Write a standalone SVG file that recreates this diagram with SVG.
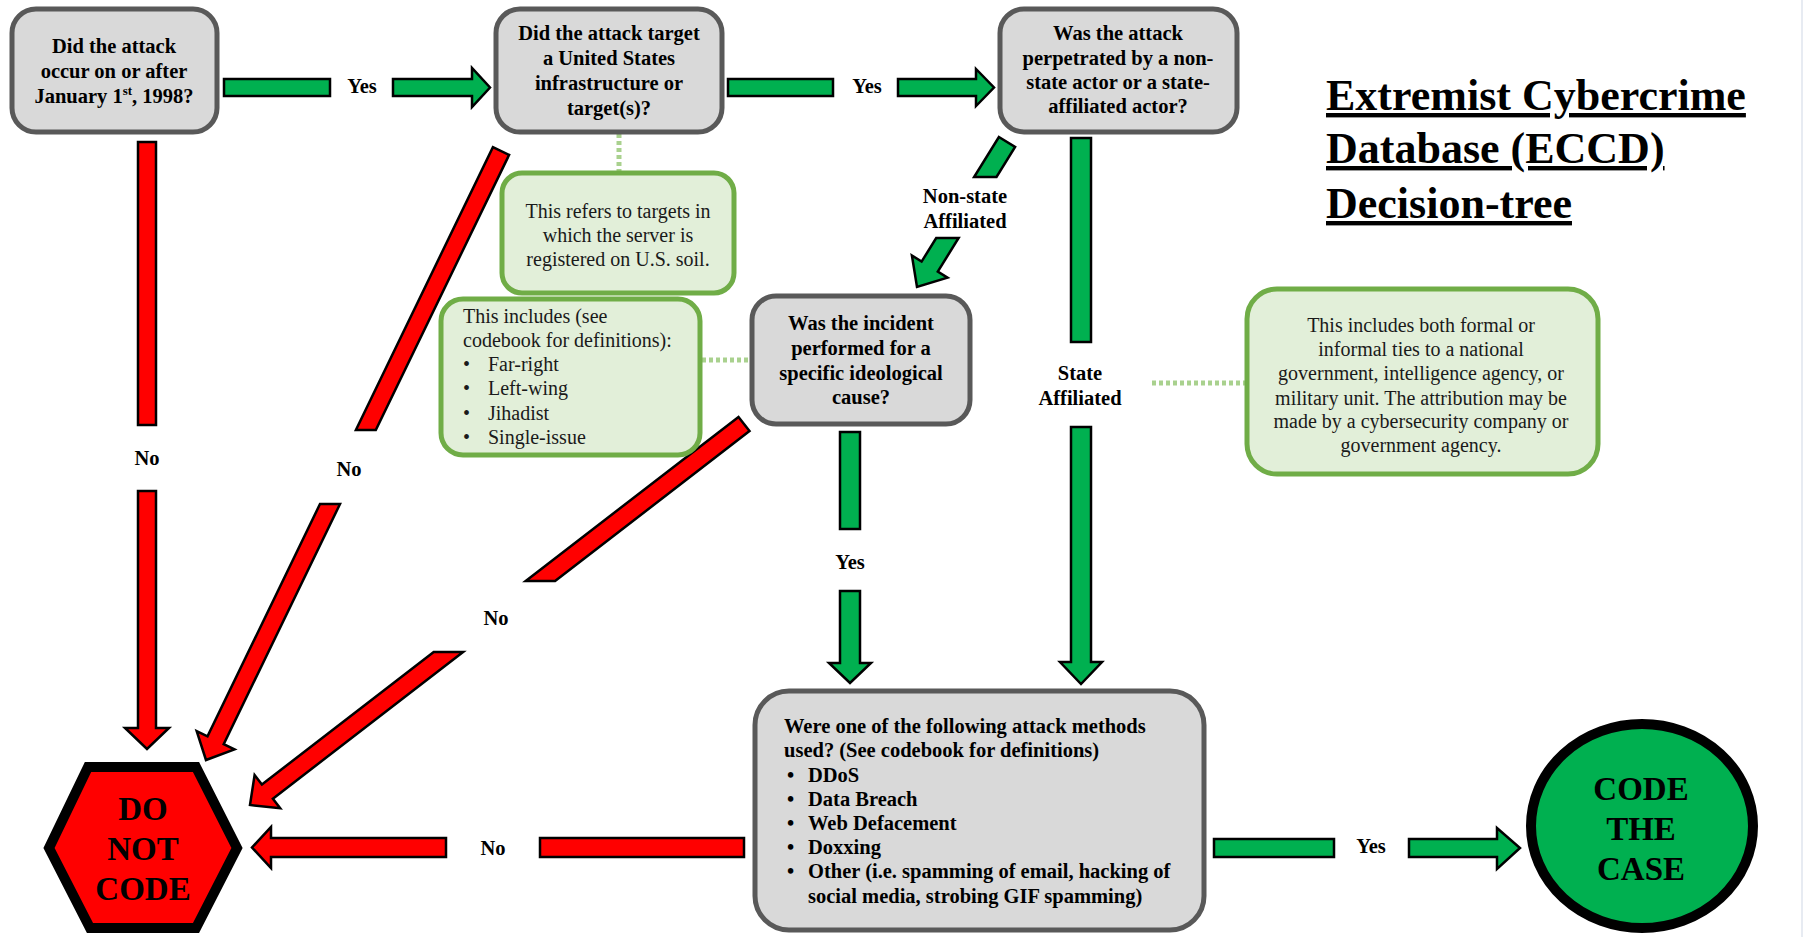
<svg xmlns="http://www.w3.org/2000/svg" width="1805" height="937" viewBox="0 0 1805 937">
<style>
.q{fill:#d9d9d9;stroke:#595959;stroke-width:5}
.note{fill:#e2efd9;stroke:#70ad47;stroke-width:5}
text{font-family:"Liberation Serif","Times New Roman",serif;fill:#000}
.qt{font-size:20.5px;font-weight:bold;text-anchor:middle}
.qtl{font-size:20.5px;font-weight:bold}
.nt{font-size:20px;text-anchor:middle;fill:#1a1a1a}
.ntl{font-size:20px;fill:#1a1a1a}
.lbl{font-size:20.5px;font-weight:bold;text-anchor:middle}
.red{fill:#ff0000;stroke:#000;stroke-width:2.5;stroke-linejoin:miter}
.green{fill:#00b050;stroke:#000;stroke-width:2.5;stroke-linejoin:miter}
.dot{stroke:#a9d18e;stroke-width:5;stroke-dasharray:4 3;fill:none}
.big{font-size:33px;font-weight:bold;text-anchor:middle}
.title{font-size:44px;font-weight:bold;text-decoration:underline}
</style>
<line x1="1802" y1="0" x2="1802" y2="937" stroke="#dfe4ee" stroke-width="1.5"/>

<g id="connectors">
  <!-- Yes: node1 -> node2 -->
  <rect class="green" x="224" y="79" width="106" height="17"/>
  <polygon class="green" points="393,79 472,79 472,68 490,87.5 472,107 472,96 393,96"/>
  <!-- Yes: node2 -> node3 -->
  <rect class="green" x="728" y="79" width="105" height="17"/>
  <polygon class="green" points="898,79 976,79 976,69 994,87.5 976,106 976,96 898,96"/>
  <!-- No: node1 -> do not code -->
  <rect class="red" x="138" y="142" width="18" height="283"/>
  <polygon class="red" points="138,491 156,491 156,728 169,728 147,749 125,728 138,728"/>
  <!-- No: node2 -> do not code -->
  <polygon class="red" points="492.9,147.1 509.1,154.9 375.8,430 355.9,430"/>
  <polygon class="red" points="320,504 340,504 223.7,744.1 234.5,749.4 206,760 196.7,731.1 207.5,736.3"/>
  <!-- Non-state: node3 -> node4 -->
  <polygon class="green" points="998.9,137 1015.1,147 996.5,177 974.1,177"/>
  <polygon class="green" points="936.2,238 958.6,238 937.8,271.6 947.5,277.7 917,287 911.9,255.5 921.6,261.6"/>
  <!-- State: node3 -> node5 -->
  <rect class="green" x="1071" y="138" width="20" height="204"/>
  <polygon class="green" points="1071,427 1091,427 1091,662 1102,662 1081,684 1060,662 1071,662"/>
  <!-- No: node4 -> do not code -->
  <polygon class="red" points="738.5,416.9 749.5,431.1 555.1,581 525.7,581"/>
  <polygon class="red" points="433.7,652 463.1,652 272.9,798.7 280.2,808.2 250,805 254.6,775 261.9,784.5"/>
  <!-- Yes: node4 -> node5 -->
  <rect class="green" x="840" y="432" width="20" height="97"/>
  <polygon class="green" points="840,591 860,591 860,663 871,663 850,683 829,663 840,663"/>
  <!-- No: node5 -> do not code -->
  <rect class="red" x="540" y="838" width="204" height="19"/>
  <polygon class="red" points="446,838 271,838 271,827 252,847.5 271,868 271,857 446,857"/>
  <!-- Yes: node5 -> code -->
  <rect class="green" x="1214" y="839" width="120" height="18"/>
  <polygon class="green" points="1409,839 1497,839 1497,828 1520,848 1497,869 1497,857 1409,857"/>
  <!-- dotted note links -->
  <line class="dot" x1="619" y1="134" x2="619" y2="171"/>
  <line class="dot" x1="702" y1="360" x2="750" y2="360"/>
  <line class="dot" x1="1152" y1="383" x2="1245" y2="383"/>
  <!-- labels -->
  <text class="lbl" x="362" y="93">Yes</text>
  <text class="lbl" x="867" y="93">Yes</text>
  <text class="lbl" x="147" y="465">No</text>
  <text class="lbl" x="349" y="476">No</text>
  <text class="lbl" x="965" y="203">Non-state</text>
  <text class="lbl" x="965" y="228">Affiliated</text>
  <text class="lbl" x="1080" y="380">State</text>
  <text class="lbl" x="1080" y="405">Affiliated</text>
  <text class="lbl" x="496" y="625">No</text>
  <text class="lbl" x="850" y="569">Yes</text>
  <text class="lbl" x="493" y="855">No</text>
  <text class="lbl" x="1371" y="853">Yes</text>
</g>

<g id="q1">
  <rect class="q" x="12" y="9" width="205" height="123" rx="24"/>
  <text class="qt" x="114" y="53">Did the attack</text>
  <text class="qt" x="114" y="78">occur on or after</text>
  <text class="qt" x="114" y="103">January 1<tspan font-size="13" dy="-8">st</tspan><tspan dy="8">, 1998?</tspan></text>
</g>

<g id="q2">
  <rect class="q" x="496" y="9" width="226" height="123" rx="24"/>
  <text class="qt" x="609" y="40">Did the attack target</text>
  <text class="qt" x="609" y="65">a United States</text>
  <text class="qt" x="609" y="90">infrastructure or</text>
  <text class="qt" x="609" y="115">target(s)?</text>
</g>

<g id="note1">
  <rect class="note" x="502" y="173" width="232" height="120" rx="20"/>
  <text class="nt" x="618" y="218">This refers to targets in</text>
  <text class="nt" x="618" y="242">which the server is</text>
  <text class="nt" x="618" y="266">registered on U.S. soil.</text>
</g>

<g id="q3">
  <rect class="q" x="1000" y="9" width="237" height="123" rx="24"/>
  <text class="qt" x="1118" y="40">Was the attack</text>
  <text class="qt" x="1118" y="65">perpetrated by a non-</text>
  <text class="qt" x="1118" y="89">state actor or a state-</text>
  <text class="qt" x="1118" y="113">affiliated actor?</text>
</g>

<g id="title">
  <text class="title" x="1326" y="110">Extremist Cybercrime</text>
  <text class="title" x="1326" y="163">Database (ECCD)</text>
  <text class="title" x="1326" y="218">Decision-tree</text>
</g>

<g id="note2">
  <rect class="note" x="441" y="299" width="259" height="156" rx="22"/>
  <text class="ntl" x="463" y="323">This includes (see</text>
  <text class="ntl" x="463" y="347">codebook for definitions):</text>
  <text class="ntl" x="463" y="371">•</text><text class="ntl" x="488" y="371">Far-right</text>
  <text class="ntl" x="463" y="395">•</text><text class="ntl" x="488" y="395">Left-wing</text>
  <text class="ntl" x="463" y="420">•</text><text class="ntl" x="488" y="420">Jihadist</text>
  <text class="ntl" x="463" y="444">•</text><text class="ntl" x="488" y="444">Single-issue</text>
</g>

<g id="q4">
  <rect class="q" x="752" y="296" width="218" height="128" rx="24"/>
  <text class="qt" x="861" y="330">Was the incident</text>
  <text class="qt" x="861" y="355">performed for a</text>
  <text class="qt" x="861" y="380">specific ideological</text>
  <text class="qt" x="861" y="404">cause?</text>
</g>

<g id="note3">
  <rect class="note" x="1247" y="289" width="351" height="185" rx="30"/>
  <text class="nt" x="1421" y="332">This includes both formal or</text>
  <text class="nt" x="1421" y="356">informal ties to a national</text>
  <text class="nt" x="1421" y="380">government, intelligence agency, or</text>
  <text class="nt" x="1421" y="405">military unit. The attribution may be</text>
  <text class="nt" x="1421" y="428">made by a cybersecurity company or</text>
  <text class="nt" x="1421" y="452">government agency.</text>
</g>

<g id="q5">
  <rect class="q" x="755" y="691" width="449" height="239" rx="34"/>
  <text class="qtl" x="784" y="733">Were one of the following attack methods</text>
  <text class="qtl" x="784" y="757">used? (See codebook for definitions)</text>
  <text class="qtl" x="787" y="782">•</text><text class="qtl" x="808" y="782">DDoS</text>
  <text class="qtl" x="787" y="806">•</text><text class="qtl" x="808" y="806">Data Breach</text>
  <text class="qtl" x="787" y="830">•</text><text class="qtl" x="808" y="830">Web Defacement</text>
  <text class="qtl" x="787" y="854">•</text><text class="qtl" x="808" y="854">Doxxing</text>
  <text class="qtl" x="787" y="878">•</text><text class="qtl" x="808" y="878">Other (i.e. spamming of email, hacking of</text>
  <text class="qtl" x="808" y="903">social media, strobing GIF spamming)</text>
</g>

<g id="donotcode">
  <polygon points="88,767 196,767 237,848 196,928 90,928 49,848" fill="#ff0000" stroke="#000" stroke-width="10" stroke-linejoin="miter"/>
  <text class="big" x="143" y="820">DO</text>
  <text class="big" x="143" y="860">NOT</text>
  <text class="big" x="143" y="900">CODE</text>
</g>

<g id="codethecase">
  <ellipse cx="1642" cy="826" rx="111" ry="102" fill="#00b050" stroke="#000" stroke-width="10"/>
  <text class="big" x="1641" y="800">CODE</text>
  <text class="big" x="1641" y="840">THE</text>
  <text class="big" x="1641" y="880">CASE</text>
</g>
</svg>
